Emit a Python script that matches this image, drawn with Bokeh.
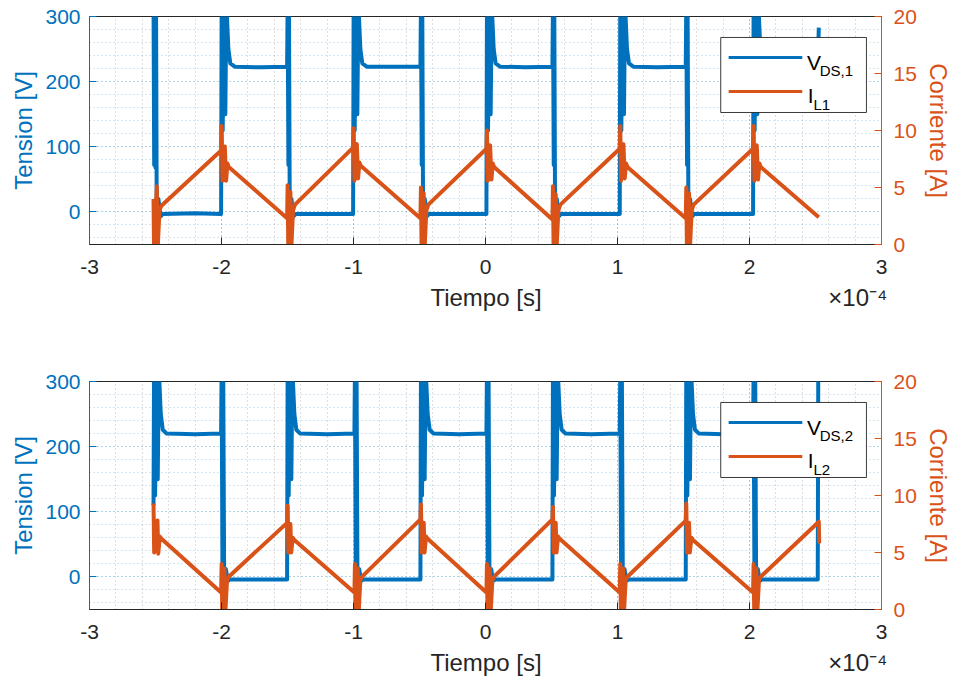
from bokeh.plotting import figure
from bokeh.models import Range1d, LinearAxis, FixedTicker, Label, BoxAnnotation
from bokeh.layouts import column
from bokeh.embed import file_html
from bokeh.resources import INLINE

BLUE = "#0072BD"
ORANGE = "#D95319"
DARK = "#262626"
FONT = "Liberation Sans"

# ---------------- data (time in units of 1e-4 s) ----------------
x_ticks = [-3, -2, -1, 0, 1, 2, 3]
x_tick_labels = ["-3", "-2", "-1", "0", "1", "2", "3"]
v_ticks = [0, 100, 200, 300]
v_tick_labels = ["0", "100", "200", "300"]
i_ticks = [0, 5, 10, 15, 20]
i_tick_labels = ["0", "5", "10", "15", "20"]
x_label = "Tiempo [s]"
x_exponent = "\u00d710\u207b\u2074"

# Panel 1: V_DS,1 [V]
v1_t = [-2.515, -2.510, -2.505, -2.500, -2.496, -2.490, -2.478, -2.462, -2.445, -2.200,
        -2.003, -1.999, -1.991, -1.981, -1.971, -1.963, -1.948, -1.933, -1.900, -1.700,
        -1.503, -1.499, -1.493, -1.489, -1.482, -1.470, -1.455, -1.438, -1.200,
        -1.003, -0.999, -0.991, -0.981, -0.971, -0.963, -0.948, -0.933, -0.900, -0.700,
        -0.493, -0.489, -0.483, -0.479, -0.472, -0.460, -0.445, -0.428, -0.200,
        0.007, 0.011, 0.019, 0.029, 0.039, 0.047, 0.062, 0.077, 0.110, 0.300,
        0.507, 0.511, 0.517, 0.521, 0.528, 0.540, 0.555, 0.572, 0.800,
        1.017, 1.021, 1.029, 1.039, 1.049, 1.057, 1.072, 1.087, 1.120, 1.300,
        1.517, 1.521, 1.527, 1.531, 1.538, 1.550, 1.565, 1.582, 1.800,
        2.027, 2.031, 2.039, 2.049, 2.059, 2.067, 2.082, 2.097, 2.130, 2.300,
        2.517, 2.525]
v1_v = [320, 72, 320, 68, 320, -50, 20, -7, -3, -2,
        -3, 320, 125, 320, 150, 320, 250, 228, 223, 222,
        223, 320, 72, 320, -50, 20, -7, -3, -3,
        -3, 320, 125, 320, 150, 320, 250, 228, 223, 223,
        223, 320, 72, 320, -50, 20, -7, -3, -3,
        -3, 320, 125, 320, 150, 320, 250, 228, 223, 222,
        223, 320, 72, 320, -50, 20, -7, -3, -3,
        -3, 320, 125, 320, 150, 320, 250, 228, 223, 222,
        223, 320, 72, 320, -50, 20, -7, -3, -3,
        -3, 320, 125, 320, 150, 320, 250, 228, 223, 222,
        223, 283]

# Panel 1: I_L1 [A]
i1_t = [-2.515, -2.511, -2.490, -2.484, -2.470, -2.455,
        -2.003, -1.999, -1.993, -1.985, -1.975, -1.965, -1.955, -1.945,
        -1.503, -1.499, -1.494, -1.478, -1.472, -1.458, -1.443,
        -1.003, -0.999, -0.993, -0.985, -0.975, -0.965, -0.955, -0.945,
        -0.493, -0.489, -0.484, -0.468, -0.462, -0.448, -0.433,
        0.007, 0.011, 0.017, 0.025, 0.035, 0.045, 0.055, 0.065,
        0.507, 0.511, 0.516, 0.532, 0.538, 0.552, 0.567,
        1.017, 1.021, 1.027, 1.035, 1.045, 1.055, 1.065, 1.075,
        1.517, 1.521, 1.526, 1.542, 1.548, 1.562, 1.577,
        2.027, 2.031, 2.037, 2.045, 2.055, 2.065, 2.075, 2.085,
        2.525]
i1_v = [4.0, -0.5, 5.1, -0.5, 3.0, 3.4,
        8.25, 10.4, 5.6, 8.3, 8.6, 5.6, 7.1, 6.8,
        2.3, 5.2, -0.5, 4.6, -0.5, 3.0, 3.5,
        8.5, 10.2, 5.6, 8.5, 8.8, 5.8, 7.2, 6.9,
        2.3, 5.0, -0.5, 4.5, -0.5, 3.0, 3.5,
        8.4, 10.0, 5.6, 8.4, 8.7, 5.7, 7.1, 6.8,
        2.2, 5.1, -0.5, 4.4, -0.5, 3.0, 3.5,
        8.4, 10.4, 5.6, 8.4, 8.8, 5.8, 7.1, 6.8,
        2.3, 5.0, -0.5, 4.5, -0.5, 3.0, 3.5,
        8.4, 10.4, 5.6, 8.4, 8.7, 5.7, 7.1, 6.8,
        2.4]

# Panel 2: V_DS,2 [V]
v2_t = [-2.515, -2.511, -2.503, -2.493, -2.483, -2.475, -2.460, -2.445, -2.415, -2.200,
        -2.003, -1.999, -1.993, -1.987, -1.979, -1.967, -1.952, -1.935, -1.700,
        -1.503, -1.499, -1.491, -1.481, -1.471, -1.463, -1.448, -1.433, -1.403, -1.200,
        -0.993, -0.989, -0.983, -0.977, -0.969, -0.957, -0.942, -0.925, -0.700,
        -0.493, -0.489, -0.481, -0.471, -0.461, -0.453, -0.438, -0.423, -0.393, -0.200,
        0.007, 0.011, 0.017, 0.023, 0.031, 0.043, 0.058, 0.075, 0.300,
        0.507, 0.511, 0.519, 0.529, 0.539, 0.547, 0.562, 0.577, 0.607, 0.800,
        1.017, 1.021, 1.027, 1.033, 1.041, 1.053, 1.068, 1.085, 1.300,
        1.517, 1.521, 1.529, 1.539, 1.549, 1.557, 1.572, 1.587, 1.617, 1.800,
        2.027, 2.031, 2.037, 2.043, 2.051, 2.063, 2.078, 2.095, 2.300,
        2.517, 2.521]
v2_v = [110, 320, 125, 320, 150, 320, 250, 226, 220, 219,
        220, 320, 15, 320, -45, 12, -6, -4, -4,
        -4, 320, 125, 320, 150, 320, 250, 226, 220, 219,
        220, 320, 15, 320, -45, 12, -6, -4, -4,
        -4, 320, 125, 320, 150, 320, 250, 226, 220, 219,
        220, 320, 15, 320, -45, 12, -6, -4, -4,
        -4, 320, 125, 320, 150, 320, 250, 226, 220, 219,
        220, 320, 15, 320, -45, 12, -6, -4, -4,
        -4, 320, 125, 320, 150, 320, 250, 226, 220, 219,
        220, 320, 15, 320, -45, 12, -6, -4, -4,
        -4, 320]

# Panel 2: I_L2 [A]
i2_t = [-2.515, -2.510, -2.485, -2.479, -2.468, -2.455,
        -2.003, -1.999, -1.994, -1.978, -1.972, -1.958, -1.943,
        -1.503, -1.499, -1.493, -1.478, -1.472, -1.460, -1.448,
        -0.993, -0.989, -0.984, -0.968, -0.962, -0.948, -0.933,
        -0.493, -0.489, -0.483, -0.468, -0.462, -0.450, -0.438,
        0.007, 0.011, 0.016, 0.032, 0.038, 0.052, 0.067,
        0.507, 0.511, 0.517, 0.532, 0.538, 0.550, 0.562,
        1.017, 1.021, 1.026, 1.042, 1.048, 1.062, 1.077,
        1.517, 1.521, 1.527, 1.542, 1.548, 1.560, 1.572,
        2.027, 2.031, 2.036, 2.052, 2.058, 2.072, 2.087,
        2.525, 2.528]
i2_v = [9.3, 5.0, 7.8, 4.9, 6.4, 6.2,
        1.5, 4.0, -0.5, 3.6, -0.5, 2.6, 2.9,
        7.6, 9.1, 5.0, 7.5, 5.0, 6.3, 6.1,
        1.5, 4.0, -0.5, 3.6, -0.5, 2.6, 2.9,
        7.9, 9.2, 5.0, 7.6, 5.0, 6.4, 6.2,
        1.5, 4.0, -0.5, 3.6, -0.5, 2.6, 2.9,
        7.9, 9.0, 5.0, 7.6, 5.0, 6.4, 6.2,
        1.5, 4.0, -0.5, 3.6, -0.5, 2.6, 2.9,
        7.8, 9.3, 5.0, 7.6, 5.0, 6.3, 6.1,
        1.5, 4.0, -0.5, 3.6, -0.5, 2.6, 2.9,
        7.7, 5.8]

X_RANGE = (-3, 3)
V_RANGE = (-50, 300)
I_RANGE = (0, 20)
FRAME_W, FRAME_H = 792, 228

NBSP = "\u00a0"
# axis label: "Tiempo [s]" stays centred, the exponent sits at the right end
X_AXIS_TEXT = NBSP * 52 + x_label + NBSP * 43 + x_exponent


def fx(f):
    return X_RANGE[0] + f * (X_RANGE[1] - X_RANGE[0])


def fy(f):
    return V_RANGE[0] + f * (V_RANGE[1] - V_RANGE[0])


def style_axis(ax, color, label):
    ax.axis_label = label
    ax.axis_line_color = color
    ax.major_tick_line_color = color
    ax.major_tick_in = 7
    ax.major_tick_out = 0
    ax.minor_tick_line_color = None
    ax.major_label_text_font = FONT
    ax.major_label_text_font_size = "21px"
    ax.major_label_text_color = color
    ax.axis_label_text_font = FONT
    ax.axis_label_text_font_size = "24px"
    ax.axis_label_text_font_style = "normal"
    ax.axis_label_text_color = color


def make_panel(vt, vv, it, iv, vsub, isub, btop, bbottom):
    p = figure(frame_width=FRAME_W, frame_height=FRAME_H,
               x_range=Range1d(*X_RANGE), y_range=Range1d(*V_RANGE),
               output_backend="svg", toolbar_location=None,
               min_border_left=89, min_border_right=72,
               min_border_top=btop, min_border_bottom=bbottom,
               background_fill_color="white", border_fill_color="white")
    p.outline_line_color = DARK
    p.outline_line_width = 1
    p.extra_y_ranges = {"cur": Range1d(*I_RANGE)}

    x_minor = [round(-3 + 0.2 * k, 1) for k in range(31)]
    v_minor = list(range(-40, 301, 20))
    xt = FixedTicker(ticks=x_ticks, minor_ticks=x_minor)
    vtk = FixedTicker(ticks=v_ticks, minor_ticks=v_minor)

    # grid (dotted, MATLAB-like)
    p.xgrid.ticker = xt
    p.ygrid.ticker = vtk
    for g, col, a in ((p.xgrid, DARK, 0.3), (p.ygrid, BLUE, 0.35)):
        g.grid_line_color = col
        g.grid_line_alpha = a
        g.grid_line_dash = "1 3"
        g.minor_grid_line_color = col
        g.minor_grid_line_alpha = a
        g.minor_grid_line_dash = "1 3"

    xa = p.xaxis[0]
    xa.ticker = xt
    xa.major_label_overrides = {t: s for t, s in zip(x_ticks, x_tick_labels)}
    style_axis(xa, DARK, X_AXIS_TEXT)
    xa.major_label_standoff = 11
    xa.axis_label_standoff = 7

    ya = p.yaxis[0]
    ya.ticker = FixedTicker(ticks=v_ticks)
    ya.major_label_overrides = {t: s for t, s in zip(v_ticks, v_tick_labels)}
    style_axis(ya, BLUE, "Tension [V]")
    ya.major_label_standoff = 9
    ya.axis_label_standoff = 5

    ra = LinearAxis(y_range_name="cur", ticker=FixedTicker(ticks=i_ticks))
    ra.major_label_overrides = {t: s for t, s in zip(i_ticks, i_tick_labels)}
    style_axis(ra, ORANGE, "Corriente [A]")
    ra.major_label_standoff = 12
    ra.axis_label_standoff = 5
    p.add_layout(ra, "right")

    # traces
    p.line(vt, vv, line_color=BLUE, line_width=4, line_join="round")
    p.line(it, iv, line_color=ORANGE, line_width=4, line_join="round",
           y_range_name="cur")

    # legend (drawn by hand to allow subscripts)
    p.add_layout(BoxAnnotation(left=fx(0.797), right=fx(0.981),
                               bottom=fy(0.579), top=fy(0.908),
                               fill_color="white", fill_alpha=1.0,
                               line_color=DARK, line_width=1, line_alpha=0.9,
                               level="overlay"))
    half = 1.5 / FRAME_H
    for col, yc in ((BLUE, 0.820), (ORANGE, 0.671)):
        p.add_layout(BoxAnnotation(left=fx(0.807), right=fx(0.900),
                                   bottom=fy(yc - half), top=fy(yc + half),
                                   fill_color=col, fill_alpha=1.0,
                                   line_color=None, level="overlay"))
    for txt, x, y, size in (("V", 0.906, 0.800, "21px"),
                            (vsub, 0.922, 0.762, "15px"),
                            ("I", 0.907, 0.654, "21px"),
                            (isub, 0.914, 0.616, "15px")):
        p.add_layout(Label(x=fx(x), y=fy(y), text=txt, text_font=FONT,
                           text_font_size=size, text_color="black",
                           text_baseline="alphabetic", level="overlay"))
    return p


p1 = make_panel(v1_t, v1_v, i1_t, i1_v, "DS,1", "L1", 16, 80)
p2 = make_panel(v2_t, v2_v, i2_t, i2_v, "DS,2", "L2", 57, 72)

layout = column(p1, p2)
open("out.html", "w").write(file_html(layout, INLINE))
